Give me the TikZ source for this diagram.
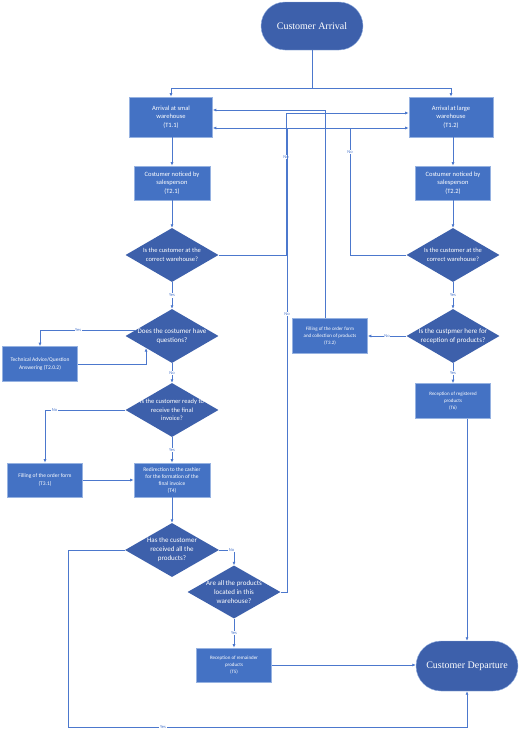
\documentclass[tikz,border=0pt]{standalone}
\usepackage{fontspec}
\setmainfont{Carlito}
\newfontfamily\serifdisp{Liberation Serif}
\usetikzlibrary{shapes.geometric,arrows.meta}
\definecolor{boxc}{RGB}{68,114,196}
\definecolor{darkc}{RGB}{61,96,171}
\definecolor{edgec}{RGB}{150,178,225}
\definecolor{linec}{RGB}{76,120,205}
\newcommand\fsz[2]{\fontsize{#1}{#2}\selectfont}
\begin{document}
\begin{tikzpicture}[x=1pt,y=-1pt,
 box/.style={rectangle,fill=boxc,draw=edgec,line width=0.6pt,text=white,align=center,inner sep=1pt},
 dia/.style={diamond,fill=darkc,draw=none,inner sep=0pt},
 dtext/.style={text=white,align=center,inner sep=0pt},
 term/.style={rectangle,fill=darkc,draw=edgec,line width=0.4pt,text=white,font=\serifdisp\fsz{10}{12}},
 conn/.style={draw=linec,line width=0.8pt},
 arr/.style={conn,-{Latex[length=3.5pt,width=3pt]}},
 lab/.style={fill=white,text=linec,font=\fsz{4.5}{5},inner sep=0.6pt}]
\useasboundingbox (0,0) rectangle (520,731);
% terminals
\node[term,rounded corners=24pt,minimum width=102pt,minimum height=48pt] (arrv) at (312,26) {Customer Arrival};
\node[term,rounded corners=25pt,minimum width=102pt,minimum height=50pt] (dep) at (467,666) {Customer Departure};
% left column
\node[box,minimum width=83pt,minimum height=40pt,font=\fsz{6.5}{8.5}] (t11) at (171,117) {Arrival at smal\\warehouse\\(T1.1)};
\node[box,minimum width=76pt,minimum height=34pt,font=\fsz{6.5}{8.5}] (t21) at (172,183) {Costumer noticed by\\salesperson\\(T2.1)};
\node[dia,minimum width=93pt,minimum height=54pt] (q1) at (172,255) {};
\node[dtext,font=\fsz{6.5}{8.5}] (q1t) at (q1) {Is the customer at the\\correct warehouse?};
\node[dia,minimum width=93pt,minimum height=54pt] (q2) at (172,336) {};
\node[dtext,font=\fsz{7}{9}] (q2t) at (q2) {Does the costumer have\\questions?};
\node[box,minimum width=75pt,minimum height=35pt,font=\fsz{5.5}{7.5}] (t202) at (40,364) {Technical Advice/Question\\Answering (T2.0.2)};
\node[dia,minimum width=93pt,minimum height=54pt] (q3) at (172,410) {};
\node[dtext,font=\fsz{6.5}{8.5}] (q3t) at (q3) {Is the customer ready to\\receive the final\\invoice?};
\node[box,minimum width=75pt,minimum height=34pt,font=\fsz{5.5}{7.5}] (t31) at (45,480) {Filling of the order form\\(T3.1)};
\node[box,minimum width=76pt,minimum height=34pt,font=\fsz{5.5}{7}] (t4) at (172,480) {Redirection to the cashier\\for the formation of the\\final invoice\\(T4)};
\node[dia,minimum width=94pt,minimum height=54pt] (q4) at (172,550) {};
\node[dtext,font=\fsz{7}{9}] (q4t) at (q4) {Has the customer\\received all the\\products?};
\node[dia,minimum width=93pt,minimum height=53pt] (q5) at (234,592) {};
\node[dtext,font=\fsz{7}{9}] (q5t) at (q5) {Are all the products\\located in this\\warehouse?};
\node[box,minimum width=75pt,minimum height=34pt,font=\fsz{5}{7}] (t5) at (234,665) {Reception of remainder\\products\\(T5)};
% right column
\node[box,minimum width=84pt,minimum height=40pt,font=\fsz{6.5}{8.5}] (t12) at (451,117) {Arrival at large\\warehouse\\(T1.2)};
\node[box,minimum width=75pt,minimum height=34pt,font=\fsz{6.5}{8.5}] (t22) at (453,183) {Costumer noticed by\\salesperson\\(T2.2)};
\node[dia,minimum width=93pt,minimum height=54pt] (r1) at (453,255) {};
\node[dtext,font=\fsz{6.5}{8.5}] (r1t) at (r1) {Is the customer at the\\correct warehouse?};
\node[dia,minimum width=93pt,minimum height=54pt] (r2) at (453,336) {};
\node[dtext,font=\fsz{7}{9}] (r2t) at (r2) {Is the custpmer here for\\reception of products?};
\node[box,minimum width=75pt,minimum height=35pt,font=\fsz{5}{7}] (t32) at (330,336) {Filling of the order form\\and collection of products\\(T3.2)};
\node[box,minimum width=75pt,minimum height=35pt,font=\fsz{5}{7}] (t6) at (453,401) {Reception of registered\\products\\(T6)};
% coordinates
\coordinate (split) at (312,88);
\coordinate (c18) at (286,113);
\coordinate (c17) at (287,128);
\coordinate (c19) at (350,128);
\coordinate (c20) at (325,110);
\coordinate (c12a) at (68,727);
\coordinate (c12b) at (467,727);
% connectors
\draw[conn] (arrv) -- (split);
\draw[arr] (split) -| (t11);
\draw[arr] (split) -| (t12);
\draw[arr] (t11.south -| t21.north) -- (t21);
\draw[arr] (t21) -- (q1);
\draw[arr] (q1) -- node[lab]{Yes} (q2);
\draw[arr] (q2.171) -| node[lab,pos=0.3]{Yes} (t202.north);
\draw[arr] (t202.east) -| (q2.205);
\draw[arr] (q2) -- node[lab]{No} (q3);
\draw[arr] (q3.west) -| node[lab,pos=0.44]{No} (t31.north);
\draw[arr] (q3) -- node[lab]{Yes} (t4);
\draw[arr] (t31) -- (t4);
\draw[arr] (t4) -- (q4);
\draw[arr] (q4.west) -| (c12a) -- node[lab,pos=0.238]{Yes} (c12b) -- (dep.south);
\draw[arr] (q4.east) -| node[lab,pos=0.42]{No} (q5.north);
\draw[arr] (q5) -- node[lab]{Yes} (t5);
\draw[arr] (t5.east) -- (t5.east -| dep.west);
\draw[arr] (t12.south -| t22.north) -- (t22);
\draw[arr] (t22) -- (r1);
\draw[arr] (r1) -- node[lab]{Yes} (r2);
\draw[arr] (r2.west) -- node[lab]{No} (t32.east);
\draw[arr] (r2) -- node[lab]{Yes} (t6);
\draw[arr] (t6.south -| dep.north) -- (dep.north);
% cross connections
\draw[arr] (q1.east) -- (q1.east -| c18) -- node[lab,pos=0.69]{No} (c18) -- (c18 -| t12.west);
\draw[arr] (r1.west) -- (r1.west -| c19) -- node[lab,pos=0.81]{No} (c19) -- (c19 -| t11.east);
\draw[arr] (q5.east) -- (q5.east -| c17) -- node[lab,pos=0.6]{No} (c17) -- (c17 -| t12.west);
\draw[arr] (c20 |- t32.north) -- (c20) -- (c20 -| t11.east);
\end{tikzpicture}
\end{document}
